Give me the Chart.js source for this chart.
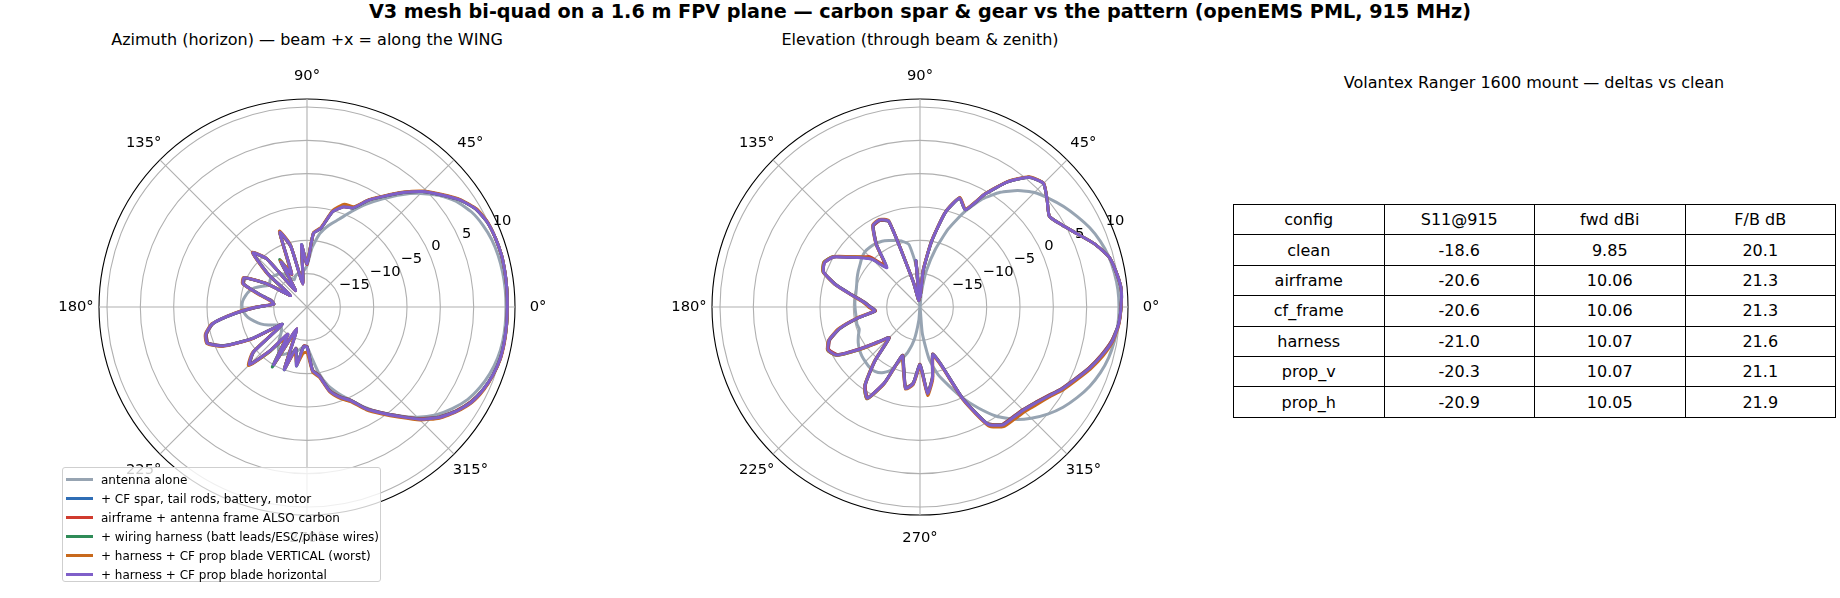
<!DOCTYPE html>
<html>
<head>
<meta charset="utf-8">
<script src="https://cdn.jsdelivr.net/npm/chart.js"></script>
<style>
  body { margin: 0; background: #fff; font-family: 'DejaVu Sans', sans-serif; color: #000; }
  #page { position: relative; width: 1840px; height: 598px; overflow: hidden; }
  .txt { position: absolute; text-align: center; white-space: nowrap; }
  canvas.polar { position: absolute; }
  #legend {
    position: absolute; left: 62px; top: 467px; width: 319px; height: 115px;
    border: 1px solid #cfcfcf; border-radius: 3px; background: rgba(255,255,255,0.8);
    padding-top: 2px; box-sizing: border-box; font-size: 12px; z-index: 2;
  }
  #legend .row { display: flex; align-items: center; height: 19px; white-space: nowrap; }
  #legend .swatch { width: 27px; height: 2.8px; margin-left: 3px; margin-right: 8px; }
  #deltas {
    position: absolute; left: 1233px; top: 204px; width: 603px; height: 206px;
    border-collapse: collapse; table-layout: fixed; font-size: 16px;
  }
  #deltas td { border: 1.5px solid #000; text-align: center; padding: 0; height: 29.4px; }
</style>
</head>
<body>
<div id="page">
  <div class="txt" style="left:0;width:1840px;top:1px;font-size:19.2px;line-height:22px;font-weight:bold">V3 mesh bi-quad on a 1.6 m FPV plane — carbon spar &amp; gear vs the pattern (openEMS PML, 915 MHz)</div>
  <div class="txt" style="left:7px;width:600px;top:31px;font-size:16px;line-height:18px">Azimuth (horizon) — beam +x = along the WING</div>
  <div class="txt" style="left:620px;width:600px;top:31px;font-size:16px;line-height:18px">Elevation (through beam &amp; zenith)</div>
  <div class="txt" style="left:1234px;width:600px;top:74px;font-size:16px;line-height:18px">Volantex Ranger 1600 mount — deltas vs clean</div>

  <canvas id="az" class="polar" width="520" height="520" style="left:47px;top:47px"></canvas>
  <canvas id="el" class="polar" width="520" height="520" style="left:660px;top:47px"></canvas>

  <div id="legend"></div>
  <table id="deltas"></table>
</div>

<script>
// pattern sampled every 5 deg, theta = 0,5,...,355 (counter-clockwise, 0 = beam)
const thetaDeg = Array.from({ length: 72 }, (_, i) => i * 5);

const seriesNames = [
  'antenna alone',
  '+ CF spar, tail rods, battery, motor',
  'airframe + antenna frame ALSO carbon',
  '+ wiring harness (batt leads/ESC/phase wires)',
  '+ harness + CF prop blade VERTICAL (worst)',
  '+ harness + CF prop blade horizontal'
];
const seriesColors = ['#97a4b2', '#2f6db5', '#d03b2e', '#2e8b57', '#c8691c', '#7f5fc9'];

// azimuth cut (dBi)
const azAlone = [
  9.85, 9.85, 9.8, 9.7, 9.5, 9.1, 8.5, 7.5, 6.0, 4.1, 2.0, -0.2, -2.2, -4.2, -6.0, -7.3, -8.8, -11.0,
  -13.8, -14.5, -14.8, -14.8, -15.0, -15.5, -15.0, -14.0, -13.5, -13.3, -13.0, -13.2, -13.5, -12.6, -11.6, -11.0, -10.6, -10.3,
  -10.25, -10.5, -11.0, -11.8, -12.6, -13.6, -14.6, -15.2, -15.0, -14.5, -13.5, -12.5, -11.8, -12.2, -12.8, -13.0, -13.5, -14.0,
  -14.0, -12.5, -10.0, -7.8, -6.2, -4.6, -2.6, -0.6, 1.3, 3.4, 5.2, 6.6, 7.8, 8.6, 9.2, 9.6, 9.8, 9.85
];
const azCF = [
  10.06, 10.1, 10.15, 10.2, 10.1, 9.9, 9.3, 8.0, 6.2, 4.5, 2.4, 0.3, -1.5, -3.6, -4.0, -5.2, -8.0, -8.9,
  -13.6, -10.7, -16.5, -10.6, -8.2, -14.6, -12.4, -17.0, -10.6, -8.6, -12.6, -17.0, -13.0, -9.7, -9.9, -12.6, -14.6, -15.0,
  -12.6, -9.3, -5.7, -4.4, -4.2, -6.3, -10.6, -15.5, -9.6, -7.9, -11.6, -15.0, -10.2, -16.4, -10.1, -13.6, -11.1, -14.1,
  -14.1, -10.5, -9.6, -7.1, -5.7, -4.6, -2.5, -0.7, 1.3, 3.7, 5.7, 7.2, 8.4, 9.2, 9.7, 10.0, 10.05, 10.06
];
const azFrame = [
  10.06, 10.1, 10.15, 10.2, 10.1, 9.9, 9.3, 8.0, 6.2, 4.5, 2.4, 0.3, -1.5, -3.6, -4.0, -5.2, -8.0, -8.9,
  -13.6, -10.7, -16.5, -10.6, -8.2, -14.6, -12.4, -17.0, -10.6, -8.6, -12.6, -17.0, -13.0, -9.7, -9.9, -12.6, -14.6, -15.0,
  -12.6, -9.3, -5.7, -4.4, -4.2, -6.3, -10.6, -15.5, -9.6, -7.9, -11.6, -15.0, -10.2, -16.4, -10.1, -13.6, -11.1, -14.1,
  -14.1, -10.5, -9.6, -7.1, -5.7, -4.6, -2.5, -0.7, 1.3, 3.7, 5.7, 7.2, 8.4, 9.2, 9.7, 10.0, 10.05, 10.06
];
const azHarness = [
  10.07, 10.1, 10.15, 10.2, 10.1, 9.9, 9.3, 8.0, 6.2, 4.5, 2.4, 0.3, -1.5, -3.6, -3.9, -5.2, -8.0, -8.9,
  -13.4, -10.6, -16.3, -10.4, -8.1, -14.2, -11.8, -16.8, -10.5, -8.5, -12.4, -16.8, -13.0, -9.6, -9.8, -12.5, -14.5, -15.0,
  -12.5, -9.2, -5.6, -4.3, -4.1, -6.2, -10.5, -15.5, -9.5, -7.8, -11.2, -14.5, -9.6, -16.0, -10.0, -13.5, -11.0, -14.0,
  -14.0, -10.4, -9.5, -7.0, -5.6, -4.5, -2.4, -0.6, 1.4, 3.8, 5.8, 7.3, 8.5, 9.2, 9.7, 10.0, 10.05, 10.07
];
const azPropV = [
  10.07, 10.1, 10.15, 10.2, 10.1, 9.95, 9.4, 8.1, 6.3, 4.6, 2.5, 0.4, -1.4, -3.4, -3.6, -5.0, -7.9, -8.8,
  -13.3, -10.8, -16.3, -10.3, -7.9, -14.0, -12.0, -16.8, -10.4, -8.4, -12.2, -16.8, -12.8, -9.5, -9.7, -12.3, -14.3, -15.0,
  -12.3, -9.0, -5.5, -4.2, -4.0, -6.0, -10.3, -15.3, -9.3, -7.6, -11.3, -14.5, -10.2, -15.8, -10.2, -13.0, -11.2, -13.0,
  -13.2, -10.2, -9.3, -6.8, -5.4, -4.3, -2.2, -0.4, 1.6, 3.95, 5.95, 7.4, 8.6, 9.3, 9.75, 10.05, 10.1, 10.07
];
const azPropH = [
  10.05, 10.1, 10.15, 10.2, 10.1, 9.9, 9.3, 8.0, 6.2, 4.5, 2.4, 0.3, -1.5, -3.6, -4.0, -5.2, -8.0, -8.9,
  -13.5, -10.6, -16.5, -10.5, -8.1, -14.5, -12.2, -17.0, -10.5, -8.5, -12.5, -17.0, -13.0, -9.6, -9.8, -12.5, -14.5, -15.0,
  -12.5, -9.2, -5.6, -4.3, -4.1, -6.2, -10.5, -15.5, -9.5, -7.8, -11.5, -15.0, -10.0, -16.4, -10.0, -13.5, -11.0, -14.0,
  -14.0, -10.4, -9.5, -7.0, -5.6, -4.5, -2.4, -0.6, 1.4, 3.8, 5.8, 7.3, 8.5, 9.2, 9.7, 10.0, 10.05, 10.05
];

// elevation cut (dBi)
const elAlone = [
  9.85, 9.8, 9.6, 9.3, 8.8, 8.1, 7.2, 6.3, 5.3, 4.3, 2.8, 1.0, -1.3, -4.3, -7.5, -11.0, -14.5, -18.0,
  -20.0, -14.0, -10.5, -9.8, -9.4, -9.0, -8.6, -8.4, -8.3, -8.3, -8.6, -9.0, -9.3, -9.6, -9.9, -10.1, -10.2, -10.2,
  -10.25, -10.3, -10.3, -10.2, -10.3, -9.8, -9.3, -8.9, -8.6, -8.4, -8.2, -8.2, -8.6, -9.5, -11.5, -13.0, -15.0, -18.0,
  -20.0, -16.0, -12.0, -9.5, -7.5, -5.0, -2.5, 0.0, 2.0, 3.6, 5.0, 6.2, 7.2, 8.1, 8.8, 9.3, 9.6, 9.8
];
const elCF = [
  10.16, 10.3, 9.9, 9.3, 7.8, 6.0, 4.6, 3.7, 4.9, 6.2, 5.4, 2.9, -0.4, -3.9, -2.6, -5.3, -10.0, -14.5,
  -18.5, -13.1, -19.0, -16.0, -6.4, -5.7, -6.0, -8.7, -12.0, -9.8, -8.4, -7.0, -5.0, -4.2, -4.6, -6.9, -9.7, -11.6,
  -12.6, -13.3, -10.6, -7.6, -5.6, -4.9, -5.7, -9.1, -11.9, -13.5, -9.6, -5.7, -4.3, -7.6, -12.3, -10.6, -7.7, -8.6,
  -11.4, -7.1, -9.3, -12.7, -10.9, -4.9, 0.2, 1.5, 1.6, 1.8, 2.4, 3.3, 4.5, 5.6, 6.9, 8.1, 9.2, 9.9
];
const elFrame = [
  10.16, 10.3, 9.9, 9.3, 7.8, 6.0, 4.6, 3.7, 4.9, 6.2, 5.4, 2.9, -0.4, -3.9, -2.6, -5.3, -10.0, -14.5,
  -18.5, -13.1, -19.0, -16.0, -6.4, -5.7, -6.0, -8.7, -11.8, -9.3, -8.4, -7.0, -5.0, -4.2, -4.6, -6.9, -9.7, -11.6,
  -12.6, -13.3, -10.6, -7.6, -5.6, -4.9, -5.7, -9.1, -11.9, -13.5, -9.6, -5.7, -4.3, -7.6, -12.3, -10.6, -7.7, -8.6,
  -11.4, -7.1, -9.3, -12.7, -10.9, -4.9, 0.2, 1.5, 1.6, 1.8, 2.4, 3.3, 4.5, 5.6, 6.9, 8.1, 9.2, 9.9
];
const elHarness = [
  10.17, 10.3, 9.9, 9.3, 7.8, 6.0, 4.6, 3.7, 4.9, 6.2, 5.4, 2.9, -0.4, -3.9, -2.6, -5.3, -10.0, -14.5,
  -18.5, -13.0, -19.0, -16.0, -6.3, -5.6, -5.9, -8.6, -12.2, -9.8, -8.4, -6.9, -4.9, -4.1, -4.5, -6.8, -9.6, -11.5,
  -12.5, -13.2, -10.5, -7.5, -5.5, -4.7, -5.5, -8.8, -11.7, -13.4, -9.4, -5.5, -4.1, -7.4, -12.2, -10.5, -7.6, -8.5,
  -11.3, -7.0, -9.2, -12.6, -10.8, -4.8, 0.3, 1.6, 1.7, 1.9, 2.5, 3.4, 4.6, 5.7, 7.0, 8.2, 9.3, 9.9
];
const elPropV = [
  10.17, 10.3, 9.9, 9.3, 7.8, 6.0, 4.6, 3.7, 4.9, 6.25, 5.5, 3.0, -0.3, -3.8, -2.5, -5.2, -9.9, -14.3,
  -18.5, -13.2, -19.0, -16.0, -6.2, -5.5, -5.8, -8.5, -12.1, -9.8, -8.3, -6.8, -4.9, -4.1, -4.5, -6.7, -9.5, -11.4,
  -12.3, -13.0, -10.3, -7.3, -5.4, -4.7, -5.5, -8.8, -11.6, -13.2, -9.3, -5.5, -4.1, -7.3, -12.0, -10.3, -7.5, -8.3,
  -11.0, -6.7, -9.0, -12.4, -10.5, -4.5, 0.6, 1.9, 2.0, 2.2, 2.8, 3.6, 4.8, 5.9, 7.2, 8.4, 9.4, 9.95
];
const elPropH = [
  10.15, 10.3, 9.9, 9.3, 7.8, 6.0, 4.6, 3.7, 4.9, 6.2, 5.4, 2.9, -0.4, -3.9, -2.6, -5.3, -10.0, -14.5,
  -18.5, -13.0, -19.0, -16.0, -6.3, -5.6, -5.9, -8.6, -12.3, -9.9, -8.5, -7.0, -5.0, -4.2, -4.6, -6.8, -9.6, -11.5,
  -12.5, -13.2, -10.5, -7.5, -5.5, -4.8, -5.6, -9.0, -11.8, -13.4, -9.5, -5.6, -4.2, -7.5, -12.2, -10.5, -7.6, -8.5,
  -11.3, -7.0, -9.2, -12.6, -10.8, -4.8, 0.3, 1.6, 1.7, 1.9, 2.5, 3.4, 4.6, 5.7, 7.0, 8.2, 9.3, 9.9
];

// radial axis (dB) and angle ticks
const rMin = -20;
const rMax = 11.2;
const ringTicks = [-15, -10, -5, 0, 5, 10];
const angleTicks = [0, 45, 90, 135, 180, 225, 270, 315];

// summary table
const tableHead = ['config', 'S11@915', 'fwd dBi', 'F/B dB'];
const configNames = ['clean', 'airframe', 'cf_frame', 'harness', 'prop_v', 'prop_h'];
const s11 = [-18.6, -20.6, -20.6, -21.0, -20.3, -20.9];
const fwdGain = [9.85, 10.06, 10.06, 10.07, 10.07, 10.05];
const fbRatio = [20.1, 21.3, 21.3, 21.6, 21.1, 21.9];

Chart.defaults.font.family = "'DejaVu Sans', sans-serif";

// radar goes clockwise from startAngle, matplotlib goes counter-clockwise
const slotOf = deg => ((360 - deg) % 360) / 5;
const toRadar = arr => thetaDeg.map((_, i) => arr[(72 - i) % 72]);
const fmtDb = v => (v < 0 ? '\u2212' + Math.abs(v) : String(v));

const polarText = {
  id: 'polarText',
  beforeDatasetsDraw(chart) {
    const r = chart.scales.r;
    const ctx = chart.ctx;
    ctx.save();
    ctx.fillStyle = '#000';
    ctx.font = "14.7px 'DejaVu Sans'";
    ctx.textBaseline = 'middle';
    ctx.textAlign = 'left';
    ringTicks.forEach(v => {
      const p = r.getPointPosition(slotOf(22.5), r.getDistanceFromCenterForValue(v));
      ctx.fillText(fmtDb(v), p.x + 1, p.y - 9.5);
    });
    ctx.textAlign = 'center';
    angleTicks.forEach(deg => {
      const p = r.getPointPosition(slotOf(deg), r.drawingArea + 23);
      ctx.fillText(deg + '\u00b0', p.x, p.y);
    });
    ctx.restore();
  }
};

function makePolar(id, series) {
  return new Chart(document.getElementById(id), {
    type: 'radar',
    data: {
      labels: thetaDeg.map((_, i) => (360 - i * 5) % 360),
      datasets: series.map((s, k) => ({
        label: seriesNames[k],
        data: toRadar(s),
        borderColor: seriesColors[k],
        borderWidth: 3,
        pointRadius: 0,
        pointHitRadius: 0,
        fill: false,
        order: series.length - 1 - k
      }))
    },
    options: {
      responsive: false,
      animation: false,
      layout: { padding: 52 },
      plugins: { legend: { display: false }, tooltip: { enabled: false } },
      elements: { line: { tension: 0.18, borderJoinStyle: 'round' } },
      scales: {
        r: {
          min: rMin,
          max: rMax,
          startAngle: 90,
          afterBuildTicks: s => {
            s.ticks = [rMin].concat(ringTicks, [rMax]).map(v => ({ value: v }));
          },
          ticks: { display: false },
          pointLabels: { display: false },
          grid: {
            circular: true,
            color: c => (c.tick && c.tick.value === rMax ? '#000' : '#b0b0b0'),
            lineWidth: 1.1
          },
          angleLines: {
            color: '#b0b0b0',
            lineWidth: c => (c.index % 9 === 0 ? 1.1 : 0)
          }
        }
      }
    },
    plugins: [polarText]
  });
}

makePolar('az', [azAlone, azCF, azFrame, azHarness, azPropV, azPropH]);
makePolar('el', [elAlone, elCF, elFrame, elHarness, elPropV, elPropH]);

// legend (sits over the azimuth plot like the original)
const legend = document.getElementById('legend');
seriesNames.forEach((name, k) => {
  const row = document.createElement('div');
  row.className = 'row';
  row.innerHTML = '<span class="swatch" style="background:' + seriesColors[k] + '"></span><span>' + name + '</span>';
  legend.appendChild(row);
});

// deltas table
const table = document.getElementById('deltas');
const addRow = cells => {
  const tr = document.createElement('tr');
  cells.forEach(c => {
    const td = document.createElement('td');
    td.textContent = c;
    tr.appendChild(td);
  });
  table.appendChild(tr);
};
addRow(tableHead);
configNames.forEach((name, i) => {
  addRow([name, s11[i].toFixed(1), fwdGain[i].toFixed(2), fbRatio[i].toFixed(1)]);
});
</script>
</body>
</html>
